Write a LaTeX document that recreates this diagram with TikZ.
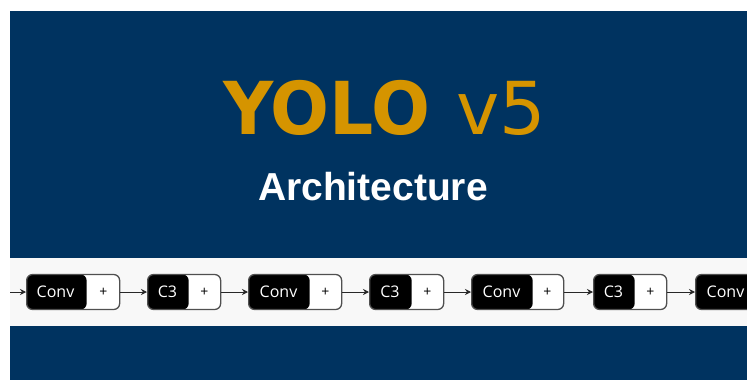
\documentclass[tikz,border=0pt]{standalone}
\usepackage{fontspec}
\usepackage{graphicx}
\usetikzlibrary{arrows.meta}
\newfontfamily\titlefont{DejaVu Sans}
\newfontfamily\subfont{Liberation Sans}
\newfontfamily\blockfont{Open Sans}
\definecolor{navy}{RGB}{0,51,96}
\definecolor{gold}{RGB}{213,148,0}
\definecolor{band}{RGB}{248,248,248}
\definecolor{edge}{RGB}{80,80,80}
\definecolor{wire}{RGB}{40,40,40}
\tikzset{
  blk/.style 2 args={draw=edge, line width=1.3pt, rounded corners=6pt,
    fill=white, minimum width=#1, minimum height=35pt, inner sep=0pt,
    path picture={\fill[black] (path picture bounding box.north west)
      rectangle ([xshift=#2]path picture bounding box.south west);}},
  lbl/.style={text=white, font=\blockfont\fontsize{16}{16}\selectfont, inner sep=0pt},
  plus/.style={text=black, font=\blockfont\fontsize{14}{14}\selectfont, inner sep=0pt},
  arr/.style={draw=wire, line width=1pt, -{Stealth[length=6pt,width=6pt]}},
}
\begin{document}
\begin{tikzpicture}[x=1pt,y=-1pt]
  \useasboundingbox (0,0) rectangle (747,380);
  \clip (0,0) rectangle (747,380);
  % backdrop
  \fill[navy] (10,11) rectangle (747,380);
  \fill[band] (10,258) rectangle (747,326);
  % title
  \node[anchor=base west, text=gold, inner sep=0pt] (title) at (223,134)
    {\titlefont\fontsize{73}{73}\selectfont
     \scalebox{0.95}[1]{\bfseries YOLO}\hspace{26pt}v5};
  \node[anchor=base, text=white, inner sep=0pt] (sub) at (373,200)
    {\subfont\fontsize{39}{39}\selectfont\bfseries Architecture};
  % blocks: Conv (93 wide, 60 black) and C3 (73 wide, 41 black)
  \node[blk={93pt}{60pt}, anchor=west] (b1) at (26,292) {};
  \node[blk={73pt}{41pt}, anchor=west] (b2) at (147,292) {};
  \node[blk={93pt}{61pt}, anchor=west] (b3) at (248,292) {};
  \node[blk={74pt}{42pt}, anchor=west] (b4) at (369,292) {};
  \node[blk={92pt}{61pt}, anchor=west] (b5) at (471,292) {};
  \node[blk={73pt}{41pt}, anchor=west] (b6) at (593,292) {};
  \node[blk={93pt}{61pt}, anchor=west] (b7) at (695,292) {};
  % labels
  \node[lbl] (t1) at ([xshift=29.5pt]b1.west) {Conv};
  \node[plus] (p1) at ([xshift=-17pt]b1.east) {+};
  \node[lbl] (t2) at ([xshift=20.5pt]b2.west) {C3};
  \node[plus] (p2) at ([xshift=-17pt]b2.east) {+};
  \node[lbl] (t3) at ([xshift=30.5pt]b3.west) {Conv};
  \node[plus] (p3) at ([xshift=-17pt]b3.east) {+};
  \node[lbl] (t4) at ([xshift=21pt]b4.west) {C3};
  \node[plus] (p4) at ([xshift=-17pt]b4.east) {+};
  \node[lbl] (t5) at ([xshift=30.5pt]b5.west) {Conv};
  \node[plus] (p5) at ([xshift=-17pt]b5.east) {+};
  \node[lbl] (t6) at ([xshift=20.5pt]b6.west) {C3};
  \node[plus] (p6) at ([xshift=-17pt]b6.east) {+};
  \node[lbl] (t7) at ([xshift=30.5pt]b7.west) {Conv};
  % connectors
  \coordinate (in) at (10,292);
  \draw[arr] (in) -- (b1.west);
  \draw[arr] (b1.east) -- (b2.west);
  \draw[arr] (b2.east) -- (b3.west);
  \draw[arr] (b3.east) -- (b4.west);
  \draw[arr] (b4.east) -- (b5.west);
  \draw[arr] (b5.east) -- (b6.west);
  \draw[arr] (b6.east) -- (b7.west);
\end{tikzpicture}
\end{document}
